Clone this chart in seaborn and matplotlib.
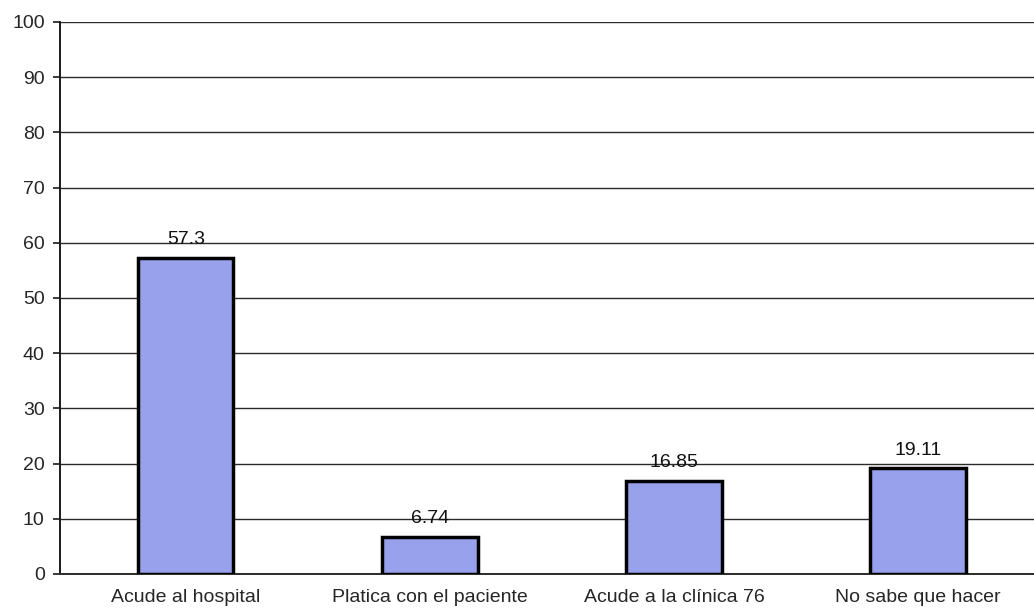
import matplotlib
matplotlib.use("Agg")
import matplotlib.pyplot as plt
import seaborn as sns
import pandas as pd

categories = ["Acude al hospital", "Platica con el paciente",
              "Acude a la clínica 76", "No sabe que hacer"]
values = [57.3, 6.74, 16.85, 19.11]
value_labels = ["57.3", "6.74", "16.85", "19.11"]
y_ticks = list(range(0, 101, 10))

sns.set_style("white")
plt.rcParams["font.family"] = ["Liberation Sans", "DejaVu Sans"]

df = pd.DataFrame({"categoria": categories, "porcentaje": values})

fig = plt.figure(figsize=(10.34, 6.09), dpi=100)
ax = fig.add_axes([0.058, 0.0575, 0.942, 0.9065])

sns.barplot(data=df, x="categoria", y="porcentaje", ax=ax,
            color="#98a1ec", saturation=1, width=0.39,
            edgecolor="black", linewidth=2.5, zorder=3)

ax.set_ylim(0, 100)
ax.set_yticks(y_ticks)
ax.set_xlim(-0.516, 3.475)
ax.yaxis.grid(True, color="#2a2a2a", linewidth=1.0, zorder=0)
ax.set_axisbelow(True)

for s in ["top", "right"]:
    ax.spines[s].set_visible(False)
ax.spines["left"].set_color("#1a1a1a")
ax.spines["left"].set_linewidth(1.4)
ax.spines["bottom"].set_color("#2a2a2a")
ax.spines["bottom"].set_linewidth(1.4)

ax.tick_params(axis="y", which="major", left=True, length=5, width=1.2,
               color="#1a1a1a", labelsize=14, pad=6)
ax.tick_params(axis="x", bottom=False, labelsize=14, pad=7)
ax.set_xlabel("")
ax.set_ylabel("")

for i, (v, lab) in enumerate(zip(values, value_labels)):
    ax.annotate(lab, (i, v), xytext=(0, 7), textcoords="offset points",
                ha="center", va="bottom", fontsize=14, color="#111111")

fig.savefig("out.png", dpi=100)
